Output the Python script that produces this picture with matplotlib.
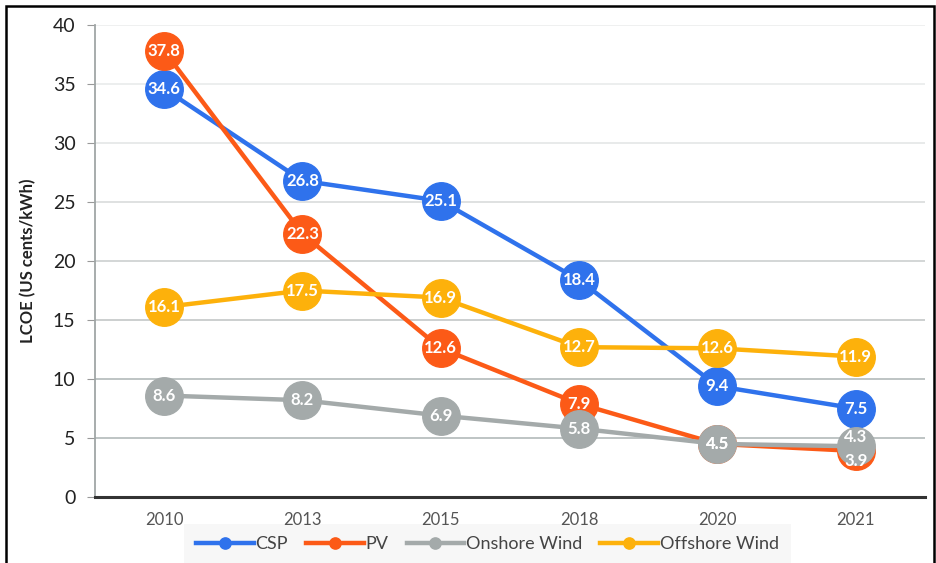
import numpy as np
import matplotlib.pyplot as plt
from matplotlib.patches import Rectangle

years = ["2010", "2013", "2015", "2018", "2020", "2021"]
csp = [34.6, 26.8, 25.1, 18.4, 9.4, 7.5]
pv = [37.8, 22.3, 12.6, 7.9, 4.5, 3.9]
onshore = [8.6, 8.2, 6.9, 5.8, 4.5, 4.3]
offshore = [16.1, 17.5, 16.9, 12.7, 12.6, 11.9]

series = [
    ("CSP", csp, "#2f72ec"),
    ("PV", pv, "#fc5a17"),
    ("Onshore Wind", onshore, "#a4aaaa"),
    ("Offshore Wind", offshore, "#fdb10b"),
]

plt.rcParams["font.family"] = ["Lato", "DejaVu Sans"]

fig = plt.figure(figsize=(9.36, 5.63), dpi=100)
ax = fig.add_axes([0.1015, 0.1172, 0.8865, 0.8384])

x = np.arange(len(years))

# gridlines: lighter near the top, as in the source
grid_cols = {5: "#b9bfbf", 10: "#b9bfbf", 15: "#c8cccc", 20: "#d0d3d3",
             25: "#dcdede", 30: "#e6e8e8", 35: "#ebeded", 40: "#eeefef"}
for yv, c in grid_cols.items():
    ax.axhline(yv, color=c, lw=1.3, zorder=0)

for name, vals, col in series:
    ax.plot(x, vals, color=col, lw=3.2, marker="o", markersize=27,
            label=name, zorder=2)

# labels; push apart the ones that would sit on top of each other
for i, (name, vals, col) in enumerate(series):
    for xi, v in zip(x, vals):
        dy = 0
        for j, (_, other, _) in enumerate(series):
            if j != i and other[xi] != v and abs(other[xi] - v) < 0.6:
                dy = 7 if v > other[xi] else -7
        ax.annotate(f"{v:.1f}", (xi, v), xytext=(0, dy),
                    textcoords="offset points", color="white", fontsize=12,
                    fontweight="bold", ha="center", va="center", zorder=3)

ax.set_xlim(-0.5, len(years) - 0.5)
ax.set_ylim(0, 40)
ax.set_yticks(range(0, 41, 5))
ax.set_xticks(x)
ax.set_xticklabels(years)
ax.tick_params(axis="y", labelsize=14, colors="#222222", length=6,
               color="#999999", pad=8)
ax.tick_params(axis="x", labelsize=12, labelcolor="#555555", length=0, pad=11)

for s in ["top", "right"]:
    ax.spines[s].set_visible(False)
ax.spines["left"].set_color("#a0a6a6")
ax.spines["left"].set_linewidth(1.3)
ax.spines["bottom"].set_color("#333333")
ax.spines["bottom"].set_linewidth(2.2)

ax.set_ylabel("LCOE (US cents/kWh)", fontsize=12, fontweight="bold",
              color="#222222", labelpad=12)

leg = ax.legend(loc="center", bbox_to_anchor=(0.473, -0.1), ncol=4,
                frameon=True, fontsize=13, handlelength=3.2,
                columnspacing=1.0, handletextpad=0.1, markerscale=0.3,
                borderpad=0.35)
leg.get_frame().set_facecolor("#f6f6f6")
leg.get_frame().set_edgecolor("none")
leg.get_frame().set_boxstyle("square")
leg.set_zorder(1)
for t in leg.get_texts():
    t.set_color("#444444")

fig.patches.append(Rectangle((0.0065, -0.01), 0.991, 1.0, transform=fig.transFigure,
                             fill=False, edgecolor="black", lw=1.8))

fig.savefig("out.png", dpi=100)
